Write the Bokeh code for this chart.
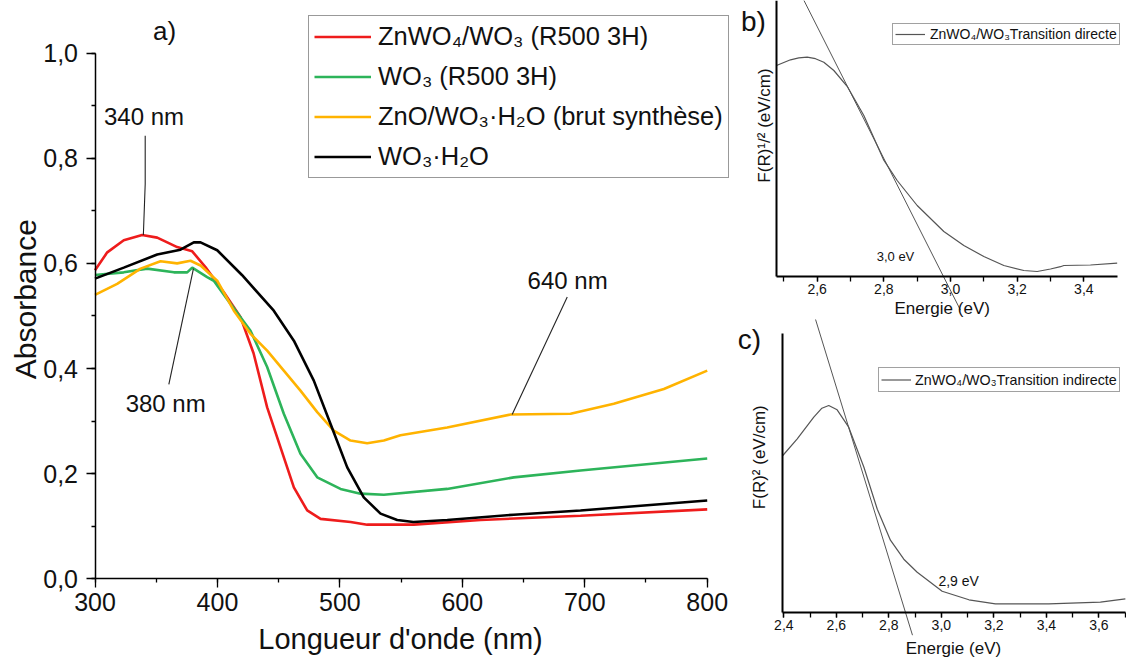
import math
from bokeh.plotting import figure
from bokeh.models import (Range1d, SingleIntervalTicker, FixedTicker, CustomJSTickFormatter,
                          Legend, LegendItem, Label)
from bokeh.layouts import row, column
from bokeh.embed import file_html
from bokeh.resources import INLINE

FONT = "Liberation Sans"
TXT = "#111111"

# ---------------- Panel a data (Absorbance vs wavelength, nm) ----------------
red_x = [300, 310, 323.5, 338.5, 350.8, 359, 367.1, 379.4, 390.2, 405.2, 418.8, 429.5, 440.6,
         451.5, 462.4, 473.3, 484.2, 508.7, 522.3, 560.4, 614.9, 696.5, 800]
red_y = [0.587, 0.621, 0.644, 0.654, 0.649, 0.640, 0.631, 0.623, 0.593, 0.545, 0.498, 0.429, 0.326,
         0.250, 0.174, 0.130, 0.114, 0.108, 0.103, 0.103, 0.112, 0.120, 0.132]

green_x = [300, 323.5, 342.6, 364.4, 375.3, 379.4, 391.6, 397, 410.7, 427, 440.6, 454.2, 467.8,
           481.5, 500.5, 516.8, 535.9, 587.6, 642, 696.5, 800]
green_y = [0.578, 0.583, 0.590, 0.583, 0.583, 0.592, 0.574, 0.567, 0.523, 0.472, 0.403, 0.314, 0.238,
           0.193, 0.171, 0.162, 0.160, 0.171, 0.193, 0.206, 0.229]

yellow_x = [300, 318.1, 337.2, 353.5, 367.1, 378, 386.2, 399.8, 413.4, 427, 440.6, 454.2, 467.8,
            481.5, 495, 508.7, 522.3, 535.9, 549.5, 587.6, 639.4, 688.4, 723.7, 764.6, 800]
yellow_y = [0.540, 0.561, 0.590, 0.604, 0.600, 0.605, 0.596, 0.567, 0.510, 0.466, 0.434, 0.396, 0.358,
            0.317, 0.282, 0.263, 0.258, 0.263, 0.273, 0.288, 0.3125, 0.314, 0.333, 0.361, 0.396]

black_x = [300, 323.5, 350.8, 369.8, 380.7, 386.2, 399.8, 420, 446, 462.4, 478.7, 492.3, 506,
           519.5, 533.2, 546.8, 560, 587.7, 642, 696.5, 800]
black_y = [0.571, 0.592, 0.617, 0.626, 0.640, 0.640, 0.625, 0.578, 0.510, 0.453, 0.377, 0.295, 0.212,
           0.155, 0.124, 0.112, 0.108, 0.112, 0.122, 0.130, 0.149]

series_names = ["ZnWO₄/WO₃ (R500 3H)", "WO₃ (R500 3H)",
                "ZnO/WO₃·H₂O (brut synthèse)", "WO₃·H₂O"]
series_colors = ["#ee1c1c", "#2db45a", "#ffb300", "#000000"]

# peak annotations (leader lines and labels)
ann340_x = [341, 341, 339.5]
ann340_y = [0.843, 0.751, 0.654]
ann380_x = [380.4, 360.3]
ann380_y = [0.590, 0.370]
ann640_x = [685.7, 640.7]
ann640_y = [0.536, 0.3125]
ann_texts = ["340 nm", "380 nm", "640 nm"]
ann_pos_x = [340, 357.7, 686]
ann_pos_y = [0.879, 0.334, 0.567]

# ---------------- Panel b data (direct transition) ----------------
b_E = [2.478, 2.52, 2.545, 2.57, 2.595, 2.62, 2.65, 2.69, 2.74, 2.80, 2.84, 2.90, 2.98, 3.04,
       3.10, 3.16, 3.22, 3.26, 3.30, 3.33, 3.34, 3.42, 3.50]
b_F = [2.107, 2.164, 2.183, 2.19, 2.175, 2.14, 2.057, 1.899, 1.607, 1.16, 0.957, 0.707, 0.447, 0.307,
       0.197, 0.107, 0.057, 0.047, 0.072, 0.095, 0.107, 0.112, 0.13]
bt_E = [2.560, 3.03]
bt_F = [2.76, -0.34]

# ---------------- Panel c data (indirect transition) ----------------
c_E = [2.396, 2.451, 2.514, 2.545, 2.571, 2.603, 2.647, 2.705, 2.756, 2.806, 2.857, 2.908, 3.003,
       3.105, 3.206, 3.409, 3.606, 3.701]
c_F = [1.567, 1.734, 1.95, 2.04, 2.067, 2.024, 1.85, 1.45, 1.03, 0.72, 0.53, 0.40, 0.21,
       0.124, 0.084, 0.084, 0.10, 0.134]
ct_E = [2.50, 2.89]
ct_F = [3.105, -0.23]

comma1 = CustomJSTickFormatter(code="return tick.toFixed(1).replace('.', ',');")


def make_fig(w, h, xr, yr):
    p = figure(width=w, height=h, x_range=Range1d(*xr), y_range=Range1d(*yr),
               min_border_left=0, min_border_right=0, min_border_top=0, min_border_bottom=0,
               output_backend="svg", toolbar_location=None)
    p.grid.visible = False
    p.outline_line_color = None
    return p


def style_axes(p, tick_size, out_major, out_minor, lw):
    for ax in (p.xaxis[0], p.yaxis[0]):
        ax.axis_line_color = "black"
        ax.axis_line_width = lw
        ax.major_tick_line_color = "black"
        ax.minor_tick_line_color = "black"
        ax.major_tick_line_width = 1.3
        ax.minor_tick_line_width = 1.3
        ax.major_tick_in = 0
        ax.minor_tick_in = 0
        ax.major_tick_out = out_major
        ax.minor_tick_out = out_minor
        ax.major_label_text_font = FONT
        ax.major_label_text_font_size = tick_size
        ax.major_label_text_color = TXT


def add_text(p, x, y, t, size, angle=0.0):
    p.add_layout(Label(x=x, y=y, text=t, angle=angle, text_font=FONT, text_font_size=size,
                       text_color=TXT, text_align="center", text_baseline="middle"))


# ================= Panel a =================
pa = make_fig(735, 659, (222.82, 823.1), (-0.1535, 1.1001))
style_axes(pa, "25px", 9, 4, 1.5)
pa.xaxis.fixed_location = 0
pa.xaxis.bounds = (300, 800)
pa.yaxis.fixed_location = 300
pa.yaxis.bounds = (0, 1.0)
pa.xaxis.ticker = SingleIntervalTicker(interval=100, num_minor_ticks=2)
pa.yaxis.ticker = SingleIntervalTicker(interval=0.2, num_minor_ticks=2)
pa.yaxis.formatter = comma1
pa.xaxis.major_label_standoff = 5
pa.yaxis.major_label_standoff = 8

renderers = []
for xs, ys, c in zip([red_x, green_x, yellow_x, black_x], [red_y, green_y, yellow_y, black_y],
                     series_colors):
    renderers.append(pa.line(xs, ys, line_color=c, line_width=2.6))

for xs, ys in ((ann340_x, ann340_y), (ann380_x, ann380_y), (ann640_x, ann640_y)):
    pa.line(xs, ys, line_color="#222222", line_width=1.1)

for t, x, y in zip(ann_texts, ann_pos_x, ann_pos_y):
    add_text(pa, x, y, t, "24px")

add_text(pa, 243.2, 0.532, "Absorbance", "30px", math.pi / 2)
add_text(pa, 549.5, -0.1136, "Longueur d'onde (nm)", "29px")
add_text(pa, 356.8, 1.042, "a)", "26px")

leg_a = Legend(items=[LegendItem(label=n, renderers=[r]) for n, r in zip(series_names, renderers)],
               location=(308, 481), label_text_font=FONT, label_text_font_size="25.5px",
               label_text_color=TXT, glyph_width=57, glyph_height=31, label_height=31,
               label_standoff=7, spacing=9, padding=5, margin=0,
               border_line_color="#333333", border_line_width=1.5,
               background_fill_color="white", background_fill_alpha=1.0)
pa.add_layout(leg_a)

# ================= Panel b =================
pb = make_fig(391, 319, (2.355, 3.528), (-0.433, 2.757))
style_axes(pb, "14px", 5, 5, 2)
pb.xaxis.fixed_location = 0
pb.xaxis.bounds = (2.478, 3.5)
pb.yaxis.fixed_location = 2.478
pb.yaxis.bounds = (0, 2.757)
pb.xaxis.ticker = SingleIntervalTicker(interval=0.2, num_minor_ticks=2)
pb.xaxis.formatter = comma1
pb.yaxis.ticker = FixedTicker(ticks=[])
pb.xaxis.major_label_standoff = 3

rb = pb.line(b_E, b_F, line_color="#555555", line_width=1.2)
pb.line(bt_E, bt_F, line_color="#555555", line_width=1.0)
add_text(pb, 2.835, 0.197, "3,0 eV", "13px")
add_text(pb, 2.4405, 1.507, "F(R)¹/² (eV/cm)", "17px", math.pi / 2)
add_text(pb, 2.975, -0.323, "Energie (eV)", "17px")
add_text(pb, 2.409, 2.55, "b)", "28px")
leg_b = Legend(items=[LegendItem(label="ZnWO₄/WO₃Transition directe", renderers=[rb])],
               location=(157, 274), label_text_font=FONT, label_text_font_size="14px",
               label_text_color=TXT, glyph_width=30, glyph_height=16, label_height=16,
               label_standoff=5, spacing=0, padding=2, margin=0,
               border_line_color="#444444", border_line_width=1,
               background_fill_color="white", background_fill_alpha=1.0)
pb.add_layout(leg_b)

# ================= Panel c =================
pc = make_fig(391, 340, (2.2158, 3.7053), (-0.473, 2.927))
style_axes(pc, "14px", 5, 5, 2)
pc.xaxis.fixed_location = 0
pc.xaxis.bounds = (2.396, 3.70)
pc.yaxis.fixed_location = 2.396
pc.yaxis.bounds = (0, 2.787)
pc.xaxis.ticker = SingleIntervalTicker(interval=0.2, num_minor_ticks=2)
pc.xaxis.formatter = comma1
pc.yaxis.ticker = FixedTicker(ticks=[])
pc.xaxis.major_label_standoff = 3

rc = pc.line(c_E, c_F, line_color="#555555", line_width=1.2)
pc.line(ct_E, ct_F, line_color="#555555", line_width=1.0)
add_text(pc, 3.066, 0.317, "2,9 eV", "14px")
add_text(pc, 2.3065, 1.55, "F(R)² (eV/cm)", "17px", math.pi / 2)
add_text(pc, 3.046, -0.366, "Energie (eV)", "17px")
add_text(pc, 2.269, 2.727, "c)", "28px")
leg_c = Legend(items=[LegendItem(label="ZnWO₄/WO₃Transition indirecte", renderers=[rc])],
               location=(143, 267), label_text_font=FONT, label_text_font_size="14.3px",
               label_text_color=TXT, glyph_width=30, glyph_height=19, label_height=19,
               label_standoff=4, spacing=0, padding=2, margin=0,
               border_line_color="#444444", border_line_width=1,
               background_fill_color="white", background_fill_alpha=1.0)
pc.add_layout(leg_c)

layout = row(pa, column(pb, pc))
open("out.html", "w").write(file_html(layout, INLINE))
